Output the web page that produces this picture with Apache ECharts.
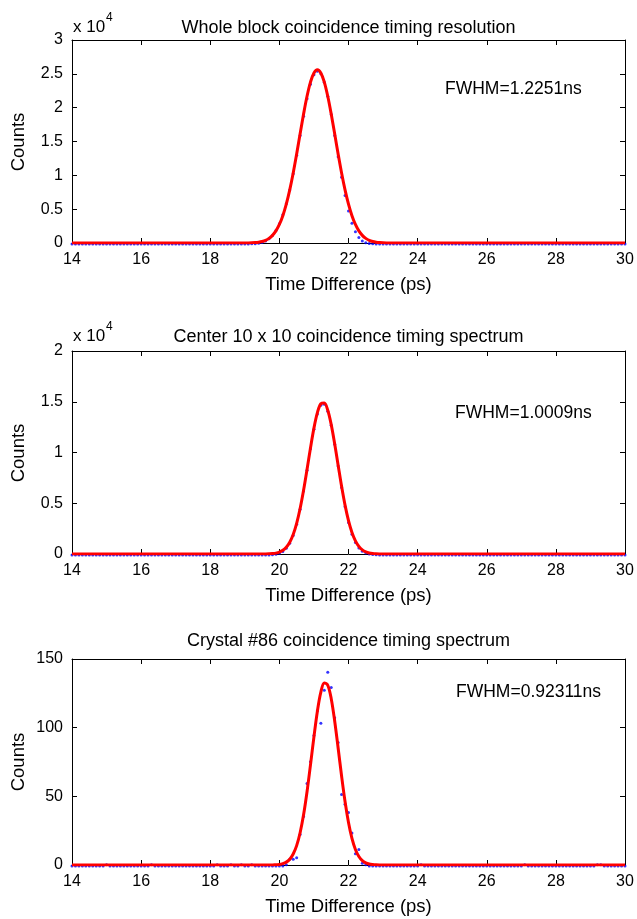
<!DOCTYPE html>
<html>
<head>
<meta charset="utf-8">
<script src="https://cdn.jsdelivr.net/npm/echarts/dist/echarts.min.js"></script>
<style>
html, body { margin: 0; padding: 0; background: #ffffff; }
#chart { width: 637px; height: 919px; }
</style>
</head>
<body>
<div id="chart"></div>
<script>
// Histogram bin centres (ps): 14.0 .. 30.0 in 0.1 steps, one row per ps below
const binStart = 14;
const binWidth = 0.1;
const binCount = 161;
const timeBins = Array.from({ length: binCount }, (_, i) => +(binStart + i * binWidth).toFixed(1));

// Panel 1: whole block, measured counts
const blockCounts = [
  0,0,0,0,0,0,0,0,0,0,            // 14
  0,0,0,0,0,0,0,0,0,0,            // 15
  0,0,0,0,0,0,0,0,0,0,            // 16
  0,0,0,0,0,0,0,0,0,0,            // 17
  0,0,0,0,0,0,0,0,0,0,            // 18
  2,6,21,52,112,234,436,762,1262,1985,                       // 19
  2990,4310,5960,7990,10380,13120,16020,18880,21480,23610,   // 20
  25010,25540,25170,23920,21850,19120,16040,12900,9880,7160, // 21
  4870,3080,1810,960,460,200,82,31,11,4,                     // 22
  1,0,0,0,0,0,0,0,0,0,            // 23
  0,0,0,0,0,0,0,0,0,0,            // 24
  0,0,0,0,0,0,0,0,0,0,            // 25
  0,0,0,0,0,0,0,0,0,0,            // 26
  0,0,0,0,0,0,0,0,0,0,            // 27
  0,0,0,0,0,0,0,0,0,0,            // 28
  0,0,0,0,0,0,0,0,0,0,            // 29
  0                               // 30
];
// Panel 1: Gaussian fit
const blockFit = [
  0,0,0,0,0,0,0,0,0,0,
  0,0,0,0,0,0,0,0,0,0,
  0,0,0,0,0,0,0,0,0,0,
  0,0,0,0,0,0,0,0,0,0,
  0,0,0,0,0,0,0,1,1,3,
  7,16,33,65,123,226,401,685,1129,1791,
  2739,4038,5735,7850,10355,13166,16131,19051,21681,23777,
  25131,25600,25131,23777,21681,19051,16131,13166,10355,7850,
  5735,4038,2739,1791,1129,685,401,226,123,65,
  33,16,7,3,1,1,0,0,0,0,
  0,0,0,0,0,0,0,0,0,0,
  0,0,0,0,0,0,0,0,0,0,
  0,0,0,0,0,0,0,0,0,0,
  0,0,0,0,0,0,0,0,0,0,
  0,0,0,0,0,0,0,0,0,0,
  0,0,0,0,0,0,0,0,0,0,
  0
];

// Panel 2: centre 10 x 10 crystals
const centerCounts = [
  0,0,0,0,0,0,0,0,0,0,
  0,0,0,0,0,0,0,0,0,0,
  0,0,0,0,0,0,0,0,0,0,
  0,0,0,0,0,0,0,0,0,0,
  0,0,0,0,0,0,0,0,0,0,
  0,0,0,0,0,1,3,12,35,82,
  176,350,655,1150,1920,3040,4510,6310,8350,10460,
  12390,13890,14760,14860,14170,12790,10900,8770,6650,4760,
  3210,2040,1220,690,370,185,88,40,16,6,
  2,0,0,0,0,0,0,0,0,0,
  0,0,0,0,0,0,0,0,0,0,
  0,0,0,0,0,0,0,0,0,0,
  0,0,0,0,0,0,0,0,0,0,
  0,0,0,0,0,0,0,0,0,0,
  0,0,0,0,0,0,0,0,0,0,
  0,0,0,0,0,0,0,0,0,0,
  0
];
const centerFit = [
  0,0,0,0,0,0,0,0,0,0,
  0,0,0,0,0,0,0,0,0,0,
  0,0,0,0,0,0,0,0,0,0,
  0,0,0,0,0,0,0,0,0,0,
  0,0,0,0,0,0,0,0,0,0,
  0,0,0,0,1,3,7,18,41,89,
  185,361,667,1166,1930,3023,4478,6276,8323,10444,
  12400,13927,14802,14884,14161,12748,10856,8749,6669,4812,
  3285,2121,1296,749,410,212,104,48,21,9,
  4,1,0,0,0,0,0,0,0,0,
  0,0,0,0,0,0,0,0,0,0,
  0,0,0,0,0,0,0,0,0,0,
  0,0,0,0,0,0,0,0,0,0,
  0,0,0,0,0,0,0,0,0,0,
  0,0,0,0,0,0,0,0,0,0,
  0,0,0,0,0,0,0,0,0,0,
  0
];

// Panel 3: single crystal #86
const crystalCounts = [
  0,0,0,0,0,0,0,0,0,0,
  1,0,0,0,0,0,0,0,0,0,
  0,0,0,1,0,0,0,0,0,0,
  0,0,0,0,0,0,0,0,0,0,
  0,0,1,0,0,0,1,0,0,1,
  0,0,1,0,0,0,0,0,0,0,
  0,0,1,5,5,6,23,36,60,76,
  95,113,104,128,141,130,108,90,52,45,
  39,24,9,12,2,1,0,0,0,0,
  0,0,0,0,0,0,0,0,0,0,
  0,1,0,0,0,0,0,0,0,0,
  0,0,0,0,0,0,0,0,0,0,
  0,0,0,0,0,0,0,0,0,0,
  0,1,0,0,0,0,0,0,0,0,
  0,0,0,0,0,0,0,0,0,0,
  0,0,1,1,0,0,0,0,0,0,
  0
];
const crystalFit = [
  0,0,0,0,0,0,0,0,0,0,
  0,0,0,0,0,0,0,0,0,0,
  0,0,0,0,0,0,0,0,0,0,
  0,0,0,0,0,0,0,0,0,0,
  0,0,0,0,0,0,0,0,0,0,
  0,0,0,0,0,0,0,0,0,0.2,
  0.4,1.0,2.1,4.2,8.0,14.1,23.5,36.5,53.3,72.9,
  93.3,112.0,125.9,132.6,130.9,121.1,104.9,85.2,64.8,46.2,
  30.9,19.3,11.3,6.2,3.2,1.6,0.7,0.3,0.1,0,
  0,0,0,0,0,0,0,0,0,0,
  0,0,0,0,0,0,0,0,0,0,
  0,0,0,0,0,0,0,0,0,0,
  0,0,0,0,0,0,0,0,0,0,
  0,0,0,0,0,0,0,0,0,0,
  0,0,0,0,0,0,0,0,0,0,
  0,0,0,0,0,0,0,0,0,0,
  0
];

// Axis ticks
const xTicks = { min: 14, max: 30, step: 2 };
const yScales = [
  { max: 30000, step: 5000, scale: 1e4 },
  { max: 20000, step: 5000, scale: 1e4 },
  { max: 150, step: 50, scale: 1 }
];

const titles = [
  'Whole block coincidence timing resolution',
  'Center 10 x 10 coincidence timing spectrum',
  'Crystal #86 coincidence timing spectrum'
];
const fwhmLabels = ['FWHM=1.2251ns', 'FWHM=1.0009ns', 'FWHM=0.92311ns'];
const xAxisTitle = 'Time Difference (ps)';
const yAxisTitle = 'Counts';

const panelCounts = [blockCounts, centerCounts, crystalCounts];
const panelFits = [blockFit, centerFit, crystalFit];

// Layout
const FONT = '"Liberation Sans", Arial, Helvetica, sans-serif';
const grids = [
  { left: 72, top: 40, width: 553, height: 203 },
  { left: 72, top: 351, width: 553, height: 203 },
  { left: 72, top: 659, width: 553, height: 206 }
];
const titleY = [28, 337, 641];
const xNameY = [285, 596, 907];
const countsY = [142, 453, 762];
const fwhmPos = [[445, 89], [455, 413], [456, 692]];

const axisLineStyle = { color: '#000', width: 1 };

const xAxes = [];
const yAxes = [];
const series = [];
const graphics = [];

grids.forEach((g, gi) => {
  const ys = yScales[gi];
  // bottom x axis with labels
  xAxes.push({
    gridIndex: gi, type: 'value', position: 'bottom',
    min: xTicks.min, max: xTicks.max, interval: xTicks.step,
    axisLine: { show: true, onZero: false, lineStyle: axisLineStyle },
    axisTick: { show: true, inside: true, length: 5, lineStyle: axisLineStyle },
    axisLabel: { show: true, color: '#000', fontSize: 16, fontFamily: FONT, margin: 9,
                 showMinLabel: true, showMaxLabel: true },
    splitLine: { show: false }
  });
  // top x axis, ticks only
  xAxes.push({
    gridIndex: gi, type: 'value', position: 'top',
    min: xTicks.min, max: xTicks.max, interval: xTicks.step,
    axisLine: { show: true, onZero: false, lineStyle: axisLineStyle },
    axisTick: { show: true, inside: true, length: 5, lineStyle: axisLineStyle },
    axisLabel: { show: false },
    splitLine: { show: false }
  });
  // left y axis with labels
  yAxes.push({
    gridIndex: gi, type: 'value', position: 'left',
    min: 0, max: ys.max, interval: ys.step,
    axisLine: { show: true, onZero: false, lineStyle: axisLineStyle },
    axisTick: { show: true, inside: true, length: 5, lineStyle: axisLineStyle },
    axisLabel: { show: true, color: '#000', fontSize: 16, fontFamily: FONT, margin: 9,
                 formatter: v => String(+(v / ys.scale).toFixed(2)) },
    splitLine: { show: false }
  });
  // right y axis, ticks only
  yAxes.push({
    gridIndex: gi, type: 'value', position: 'right',
    min: 0, max: ys.max, interval: ys.step,
    axisLine: { show: true, onZero: false, lineStyle: axisLineStyle },
    axisTick: { show: true, inside: true, length: 5, lineStyle: axisLineStyle },
    axisLabel: { show: false },
    splitLine: { show: false }
  });

  const counts = panelCounts[gi];
  const fit = panelFits[gi];
  series.push({
    type: 'scatter', name: 'data',
    xAxisIndex: 2 * gi, yAxisIndex: 2 * gi,
    data: timeBins.map((t, i) => [t, counts[i]]),
    symbol: 'circle', symbolSize: 3, symbolOffset: [0, 1],
    itemStyle: { color: '#0000ff' },
    z: 2, silent: true
  });
  series.push({
    type: 'line', name: 'fit',
    xAxisIndex: 2 * gi, yAxisIndex: 2 * gi,
    data: timeBins.map((t, i) => [t, fit[i]]),
    showSymbol: false, smooth: 0.35,
    lineStyle: { color: '#ff0000', width: 3 },
    z: 3, silent: true
  });

  const cx = g.left + g.width / 2;
  graphics.push({
    type: 'text', x: cx, y: titleY[gi], silent: true,
    style: { text: titles[gi], font: '18px ' + FONT, fill: '#000',
             align: 'center', verticalAlign: 'middle',
             textAlign: 'center', textVerticalAlign: 'middle' }
  });
  graphics.push({
    type: 'text', x: cx, y: xNameY[gi], silent: true,
    style: { text: xAxisTitle, font: '18.5px ' + FONT, fill: '#000',
             align: 'center', verticalAlign: 'middle',
             textAlign: 'center', textVerticalAlign: 'middle' }
  });
  graphics.push({
    type: 'text', x: 19, y: countsY[gi], rotation: Math.PI / 2, silent: true,
    style: { text: yAxisTitle, font: '18.5px ' + FONT, fill: '#000',
             align: 'center', verticalAlign: 'middle',
             textAlign: 'center', textVerticalAlign: 'middle' }
  });
  graphics.push({
    type: 'text', x: fwhmPos[gi][0], y: fwhmPos[gi][1], silent: true,
    style: { text: fwhmLabels[gi], font: '17.5px ' + FONT, fill: '#000',
             align: 'left', verticalAlign: 'middle',
             textAlign: 'left', textVerticalAlign: 'middle' }
  });
  if (ys.scale !== 1) {
    const ey = titleY[gi] - 1;
    graphics.push({
      type: 'text', x: 73, y: ey, silent: true,
      style: { text: 'x 10', font: '17px ' + FONT, fill: '#000',
               align: 'left', verticalAlign: 'middle',
               textAlign: 'left', textVerticalAlign: 'middle' }
    });
    graphics.push({
      type: 'text', x: 106, y: ey - 9, silent: true,
      style: { text: '4', font: '12px ' + FONT, fill: '#000',
               align: 'left', verticalAlign: 'middle',
               textAlign: 'left', textVerticalAlign: 'middle' }
    });
  }
});

const chart = echarts.init(document.getElementById('chart'), null, { renderer: 'canvas' });
chart.setOption({
  animation: false,
  backgroundColor: '#ffffff',
  textStyle: { fontFamily: FONT },
  grid: grids.map(g => Object.assign({ containLabel: false }, g)),
  xAxis: xAxes,
  yAxis: yAxes,
  series: series,
  graphic: { elements: graphics }
});
</script>
</body>
</html>
